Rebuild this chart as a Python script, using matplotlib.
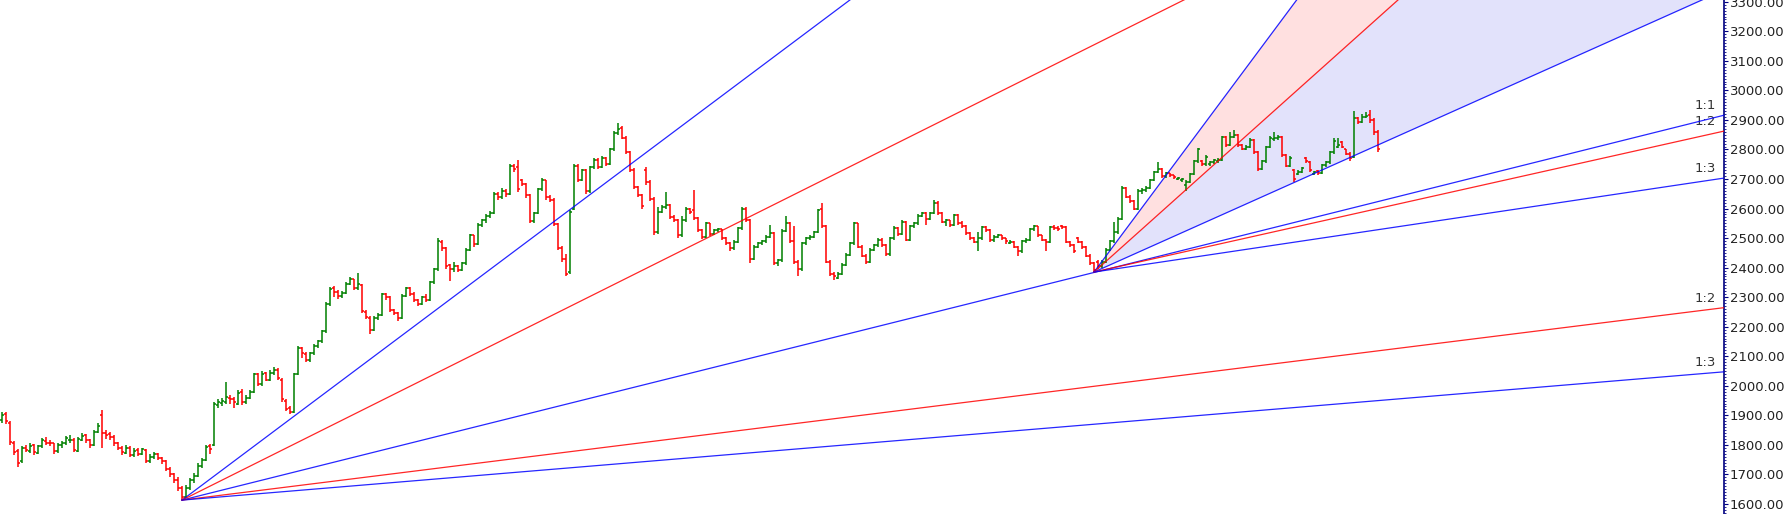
import matplotlib
matplotlib.use("Agg")
import matplotlib.pyplot as plt
from matplotlib.ticker import MultipleLocator, FormatStrFormatter

# OHLC bars, one entry per session
opens = [
    1885, 1905, 1875, 1805, 1780, 1745, 1790, 1780, 1798, 1772,
    1795, 1812, 1808, 1805, 1778, 1800, 1805, 1815, 1818, 1780,
    1818, 1832, 1815, 1800, 1845, 1900, 1840, 1838, 1828, 1805,
    1790, 1772, 1790, 1765, 1782, 1768, 1782, 1745, 1758, 1768,
    1755, 1745, 1720, 1700, 1680, 1655, 1625, 1655, 1680, 1695,
    1730, 1748, 1795, 1800, 1935, 1942, 1945, 1960, 1955, 1940,
    1980, 1945, 1960, 1978, 2040, 2005, 2042, 2020, 2045, 2055,
    2020, 1950, 1925, 1912, 2040, 2128, 2108, 2088, 2110, 2135,
    2150, 2185, 2278, 2330, 2318, 2305, 2315, 2345, 2360, 2330,
    2340, 2250, 2230, 2190, 2230, 2240, 2310, 2300, 2255, 2245,
    2228, 2305, 2330, 2312, 2290, 2278, 2300, 2292, 2350, 2395,
    2488, 2465, 2408, 2395, 2405, 2392, 2415, 2460, 2510, 2480,
    2545, 2560, 2575, 2585, 2650, 2638, 2660, 2648, 2745, 2740,
    2695, 2682, 2645, 2558, 2585, 2665, 2695, 2640, 2630, 2548,
    2468, 2428, 2385, 2600, 2745, 2698, 2730, 2658, 2740, 2765,
    2742, 2770, 2752, 2800, 2855, 2872, 2840, 2792, 2732, 2672,
    2645, 2730, 2690, 2632, 2520, 2590, 2605, 2612, 2572, 2560,
    2510, 2560, 2600, 2595, 2567, 2527, 2505, 2550, 2515, 2527,
    2530, 2500, 2482, 2465, 2488, 2533, 2600, 2561, 2430, 2470,
    2482, 2490, 2505, 2516, 2415, 2426, 2525, 2550, 2490, 2420,
    2395, 2482, 2499, 2505, 2521, 2600, 2540, 2420, 2380, 2365,
    2380, 2410, 2443, 2482, 2550, 2470, 2440, 2420, 2460, 2476,
    2495, 2476, 2445, 2500, 2535, 2515, 2556, 2495, 2540, 2550,
    2575, 2585, 2565, 2585, 2620, 2584, 2555, 2560, 2545, 2578,
    2550, 2540, 2516, 2500, 2488, 2500, 2538, 2527, 2493, 2505,
    2510, 2500, 2485, 2488, 2470, 2455, 2490, 2495, 2530, 2540,
    2510, 2495, 2488, 2538, 2535, 2540, 2538, 2488, 2477, 2500,
    2488, 2470, 2440, 2415, 2420, 2405, 2420, 2460, 2490, 2520,
    2565, 2670, 2640, 2625, 2600, 2660, 2663, 2670, 2697, 2724,
    2735, 2710, 2720, 2713, 2700, 2695, 2680, 2690, 2718, 2760,
    2760, 2750, 2750, 2758, 2760, 2765, 2843, 2815, 2843, 2850,
    2815, 2803, 2810, 2832, 2792, 2735, 2760, 2809, 2835, 2838,
    2843, 2781, 2745, 2732, 2718, 2725, 2770, 2758, 2718, 2726,
    2720, 2747, 2758, 2790, 2810, 2826, 2800, 2786, 2775, 2905,
    2894, 2911, 2918, 2900, 2860,
]
highs = [
    1912, 1910, 1880, 1812, 1785, 1795, 1800, 1805, 1802, 1800,
    1822, 1825, 1815, 1808, 1805, 1812, 1830, 1835, 1822, 1825,
    1840, 1838, 1820, 1852, 1875, 1918, 1850, 1842, 1832, 1810,
    1795, 1800, 1795, 1790, 1788, 1790, 1785, 1768, 1775, 1772,
    1760, 1750, 1725, 1705, 1690, 1660, 1665, 1688, 1705, 1740,
    1755, 1800, 1802, 1945, 1955, 1958, 2014, 1970, 1962, 1985,
    1990, 1968, 1985, 2045, 2045, 2050, 2048, 2052, 2062, 2060,
    2025, 1955, 1930, 2045, 2135, 2132, 2115, 2115, 2140, 2155,
    2190, 2282, 2335, 2338, 2325, 2322, 2350, 2368, 2362, 2381,
    2345, 2255, 2235, 2235, 2245, 2315, 2315, 2305, 2260, 2250,
    2310, 2335, 2335, 2318, 2295, 2305, 2310, 2355, 2400, 2500,
    2492, 2470, 2412, 2420, 2410, 2420, 2465, 2515, 2512, 2550,
    2565, 2580, 2592, 2655, 2655, 2668, 2665, 2750, 2752, 2765,
    2700, 2685, 2650, 2590, 2670, 2702, 2698, 2645, 2635, 2552,
    2472, 2445, 2595, 2752, 2750, 2735, 2735, 2745, 2770, 2772,
    2778, 2775, 2805, 2862, 2890, 2878, 2845, 2795, 2738, 2678,
    2650, 2740, 2695, 2638, 2605, 2612, 2655, 2615, 2578, 2565,
    2575, 2605, 2602, 2662, 2572, 2532, 2555, 2552, 2532, 2535,
    2532, 2505, 2486, 2492, 2538, 2606, 2605, 2565, 2475, 2486,
    2495, 2510, 2545, 2520, 2430, 2530, 2575, 2555, 2540, 2425,
    2488, 2503, 2512, 2525, 2600, 2618, 2545, 2425, 2385, 2385,
    2415, 2448, 2488, 2556, 2552, 2475, 2445, 2465, 2480, 2500,
    2500, 2480, 2505, 2540, 2538, 2560, 2558, 2545, 2555, 2580,
    2590, 2590, 2590, 2630, 2625, 2588, 2565, 2562, 2582, 2580,
    2558, 2545, 2520, 2505, 2520, 2542, 2542, 2530, 2510, 2515,
    2512, 2502, 2495, 2490, 2472, 2495, 2500, 2535, 2545, 2542,
    2512, 2498, 2542, 2545, 2540, 2545, 2540, 2490, 2480, 2505,
    2490, 2472, 2445, 2420, 2425, 2425, 2465, 2495, 2555, 2570,
    2675, 2672, 2645, 2628, 2665, 2668, 2675, 2700, 2728, 2756,
    2738, 2725, 2722, 2715, 2708, 2705, 2695, 2722, 2765, 2805,
    2765, 2780, 2762, 2768, 2770, 2845, 2845, 2858, 2865, 2852,
    2818, 2815, 2840, 2835, 2795, 2765, 2812, 2845, 2858, 2848,
    2845, 2783, 2778, 2735, 2732, 2740, 2775, 2762, 2728, 2730,
    2750, 2762, 2795, 2840, 2838, 2830, 2802, 2790, 2930, 2910,
    2920, 2928, 2935, 2905, 2865,
]
lows = [
    1875, 1870, 1800, 1765, 1725, 1740, 1775, 1772, 1765, 1768,
    1790, 1800, 1795, 1770, 1772, 1790, 1800, 1808, 1775, 1775,
    1812, 1808, 1790, 1795, 1840, 1790, 1820, 1815, 1795, 1782,
    1765, 1768, 1758, 1760, 1762, 1765, 1738, 1740, 1752, 1748,
    1735, 1712, 1690, 1670, 1645, 1613, 1620, 1648, 1672, 1690,
    1722, 1745, 1770, 1795, 1925, 1930, 1940, 1940, 1925, 1935,
    1935, 1940, 1955, 1975, 2000, 2000, 2015, 2015, 2038, 2020,
    1945, 1915, 1905, 1908, 2035, 2095, 2080, 2082, 2105, 2128,
    2145, 2180, 2270, 2300, 2295, 2298, 2310, 2340, 2325, 2325,
    2245, 2225, 2175, 2185, 2222, 2235, 2290, 2250, 2238, 2220,
    2225, 2300, 2305, 2285, 2270, 2272, 2282, 2288, 2345, 2390,
    2455, 2395, 2355, 2385, 2385, 2388, 2410, 2455, 2470, 2475,
    2538, 2552, 2568, 2580, 2630, 2632, 2640, 2645, 2725, 2655,
    2675, 2635, 2550, 2552, 2580, 2660, 2630, 2622, 2540, 2460,
    2420, 2370, 2380, 2595, 2690, 2692, 2650, 2652, 2735, 2735,
    2738, 2745, 2748, 2795, 2850, 2835, 2785, 2725, 2665, 2640,
    2600, 2680, 2625, 2512, 2515, 2585, 2600, 2565, 2555, 2500,
    2505, 2555, 2580, 2560, 2520, 2498, 2500, 2508, 2510, 2520,
    2495, 2478, 2458, 2460, 2485, 2528, 2555, 2415, 2425, 2465,
    2478, 2485, 2500, 2410, 2405, 2420, 2520, 2485, 2412, 2370,
    2390, 2478, 2495, 2500, 2518, 2535, 2415, 2372, 2358, 2360,
    2375, 2405, 2440, 2478, 2465, 2435, 2412, 2415, 2455, 2470,
    2470, 2440, 2440, 2495, 2508, 2510, 2490, 2490, 2535, 2545,
    2570, 2545, 2560, 2580, 2578, 2550, 2540, 2538, 2540, 2545,
    2535, 2510, 2495, 2482, 2455, 2495, 2520, 2488, 2488, 2500,
    2495, 2480, 2480, 2465, 2440, 2450, 2485, 2490, 2525, 2505,
    2490, 2455, 2485, 2528, 2525, 2532, 2482, 2470, 2450, 2482,
    2462, 2435, 2410, 2385, 2395, 2400, 2415, 2455, 2485, 2515,
    2560, 2635, 2620, 2595, 2595, 2650, 2655, 2665, 2692, 2720,
    2705, 2705, 2708, 2700, 2695, 2690, 2660, 2685, 2712, 2755,
    2745, 2745, 2745, 2752, 2755, 2760, 2810, 2812, 2838, 2810,
    2798, 2798, 2805, 2785, 2728, 2730, 2755, 2805, 2830, 2832,
    2775, 2740, 2740, 2690, 2714, 2720, 2755, 2725, 2715, 2715,
    2716, 2742, 2752, 2785, 2805, 2805, 2782, 2760, 2770, 2885,
    2890, 2905, 2890, 2850, 2790,
]
closes = [
    1900, 1880, 1810, 1775, 1740, 1790, 1782, 1795, 1775, 1795,
    1815, 1808, 1805, 1780, 1800, 1806, 1822, 1818, 1782, 1820,
    1830, 1815, 1800, 1845, 1865, 1840, 1835, 1828, 1805, 1790,
    1775, 1790, 1765, 1780, 1770, 1785, 1745, 1760, 1768, 1755,
    1745, 1720, 1700, 1680, 1655, 1625, 1655, 1680, 1695, 1730,
    1748, 1792, 1785, 1940, 1945, 1950, 1962, 1955, 1945, 1975,
    1945, 1960, 1978, 2040, 2005, 2040, 2020, 2045, 2055, 2028,
    1955, 1922, 1912, 2040, 2128, 2110, 2088, 2110, 2135, 2150,
    2185, 2278, 2328, 2318, 2305, 2315, 2345, 2360, 2330, 2345,
    2252, 2232, 2190, 2230, 2240, 2310, 2300, 2255, 2245, 2228,
    2305, 2330, 2312, 2290, 2278, 2300, 2292, 2350, 2395, 2490,
    2465, 2405, 2395, 2405, 2392, 2415, 2460, 2510, 2480, 2545,
    2560, 2575, 2585, 2650, 2638, 2660, 2648, 2745, 2735, 2665,
    2682, 2645, 2558, 2585, 2665, 2695, 2638, 2630, 2548, 2468,
    2428, 2380, 2590, 2745, 2698, 2730, 2658, 2740, 2765, 2742,
    2770, 2752, 2800, 2855, 2870, 2840, 2792, 2732, 2672, 2645,
    2610, 2690, 2632, 2520, 2590, 2605, 2612, 2572, 2560, 2510,
    2560, 2600, 2590, 2567, 2527, 2505, 2550, 2515, 2527, 2530,
    2500, 2482, 2465, 2488, 2533, 2600, 2561, 2430, 2470, 2482,
    2490, 2505, 2516, 2415, 2426, 2525, 2550, 2490, 2420, 2395,
    2482, 2499, 2505, 2521, 2595, 2540, 2420, 2380, 2370, 2380,
    2410, 2443, 2482, 2550, 2470, 2440, 2420, 2460, 2476, 2495,
    2476, 2445, 2500, 2535, 2515, 2556, 2495, 2540, 2550, 2575,
    2585, 2565, 2585, 2620, 2584, 2555, 2560, 2545, 2578, 2550,
    2540, 2516, 2500, 2488, 2500, 2538, 2527, 2493, 2505, 2510,
    2500, 2490, 2488, 2470, 2455, 2490, 2495, 2530, 2540, 2510,
    2495, 2488, 2538, 2535, 2530, 2538, 2488, 2477, 2455, 2488,
    2470, 2440, 2415, 2392, 2405, 2420, 2460, 2490, 2520, 2565,
    2670, 2640, 2625, 2600, 2660, 2663, 2670, 2697, 2724, 2735,
    2710, 2720, 2713, 2707, 2702, 2700, 2690, 2718, 2760, 2800,
    2750, 2775, 2758, 2764, 2765, 2843, 2815, 2843, 2850, 2815,
    2803, 2810, 2832, 2792, 2735, 2760, 2809, 2840, 2838, 2843,
    2781, 2745, 2770, 2700, 2725, 2736, 2760, 2730, 2724, 2720,
    2747, 2758, 2790, 2830, 2815, 2809, 2786, 2770, 2905, 2894,
    2911, 2915, 2900, 2860, 2800,
]

# Gann fans: anchor bar, anchor price, price per bar of the 1:1 line
fan_bars = [45, 273]
fan_prices = [1613, 2385]
fan_units = [3.38, 6.06]
fan_ratios = [3, 2, 1, 1 / 2, 1 / 3]
fan_names = ['3:1', '2:1', '1:1', '1:2', '1:3']
fan_colors = ['#0000ff', '#ff0000', '#0000ff', '#ff0000', '#0000ff']

y_min, y_max = 1566, 3306
x_min, x_max = -0.5, 430.5

fig = plt.figure(figsize=(17.87, 5.14), dpi=100)
ax = fig.add_axes([0, 0, 1724 / 1787, 1])

# fills of the second fan (between 3:1 / 2:1 and 2:1 / 1:1)
x0, y0, u = fan_bars[1], fan_prices[1], fan_units[1]
fx = [x0, x_max]
line3 = [y0, y0 + 3 * u * (x_max - x0)]
line2 = [y0, y0 + 2 * u * (x_max - x0)]
line1 = [y0, y0 + 1 * u * (x_max - x0)]
ax.fill_between(fx, line2, line3, color='#ffe0e0', lw=0, zorder=1)
ax.fill_between(fx, line1, line2, color='#e2e2fb', lw=0, zorder=1)

# ohlc bars
green, red = '#008000', '#ff0000'
for i in range(len(closes)):
    c = green if closes[i] >= opens[i] else red
    ax.vlines(i, lows[i], highs[i], color=c, lw=1.1, zorder=3)
    ax.hlines(opens[i], i - 0.5, i, color=c, lw=1.1, zorder=3)
    ax.hlines(closes[i], i, i + 0.5, color=c, lw=1.1, zorder=3)

# fan lines
for x0, y0, u in zip(fan_bars, fan_prices, fan_units):
    for r, name, col in zip(fan_ratios, fan_names, fan_colors):
        y_end = y0 + r * u * (x_max - x0)
        ax.plot([x0, x_max], [y0, y_end], color=col, lw=0.9, alpha=0.85, zorder=4)
        if y_end < y_max:
            ax.annotate(name, xy=(x_max, y_end), xytext=(-6, 2),
                        textcoords='offset points', ha='right', va='bottom',
                        fontsize=9.5, color='#333333')

ax.set_xlim(x_min, x_max)
ax.set_ylim(y_min, y_max)
ax.set_facecolor('white')
for s in ['left', 'top', 'bottom']:
    ax.spines[s].set_visible(False)
ax.spines['right'].set_color('#000080')
ax.spines['right'].set_linewidth(1.2)
ax.set_xticks([])
ax.yaxis.tick_right()
ax.yaxis.set_major_locator(MultipleLocator(100))
ax.yaxis.set_minor_locator(MultipleLocator(10))
ax.yaxis.set_major_formatter(FormatStrFormatter('%.2f'))
ax.tick_params(axis='y', which='major', length=3, width=0.8, color='#000080',
               pad=1, labelsize=9.5, labelcolor='#222222')
ax.tick_params(axis='y', which='minor', length=1.5, width=0.6, color='#000080')

fig.savefig('out.png', dpi=100, facecolor='white')
